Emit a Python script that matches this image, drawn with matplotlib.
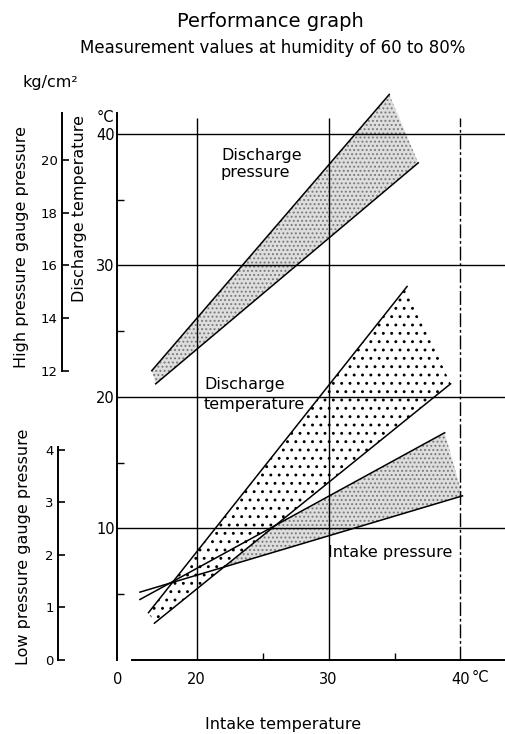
import numpy as np
import matplotlib.pyplot as plt

plt.rcParams['font.family'] = 'DejaVu Sans'
plt.rcParams['hatch.linewidth'] = 0.9

# boundary lines of each band: intake temperature (deg C) at both ends,
# band value at both ends
dp_x_upper = [16.6, 34.6]
dp_upper = [12.0, 22.5]        # discharge pressure, kg/cm2
dp_x_lower = [16.9, 36.8]
dp_lower = [11.5, 19.9]

dt_x_upper = [16.35, 35.95]
dt_upper = [3.6, 28.4]         # discharge temperature, deg C
dt_x_lower = [16.8, 39.25]
dt_lower = [2.8, 21.0]

ip_x_upper = [15.7, 38.8]
ip_upper = [1.15, 4.32]        # intake pressure, kg/cm2
ip_x_lower = [15.7, 40.15]
ip_lower = [1.29, 3.12]

temp_grid = [10, 20, 30, 40]
temp_minor = [5, 15, 25, 35]
intake_ticks = [20, 30, 40]
intake_minor = [25, 35]
hp_ticks = [12, 14, 16, 18, 20]
lp_ticks = [0, 1, 2, 3, 4]


# pressure scales against the discharge temperature scale
def t_to_hp(t):
    return 1 + np.asarray(t) / 2


def hp_to_t(p):
    return (np.asarray(p) - 1) * 2


def t_to_lp(t):
    return np.asarray(t) / 4


def lp_to_t(p):
    return np.asarray(p) * 4


def crossing(xa, ya, xb, yb):
    ka = (ya[1] - ya[0]) / (xa[1] - xa[0])
    kb = (yb[1] - yb[0]) / (xb[1] - xb[0])
    x = (yb[0] - ya[0] + ka * xa[0] - kb * xb[0]) / (ka - kb)
    return x, ya[0] + ka * (x - xa[0])


W, H = 506, 734
fig = plt.figure(figsize=(W / 100, H / 100), dpi=100)


def fx(px):
    return px / W


def fy(py):
    return 1 - py / H


XMIN, XMAX = 14.0, 43.45
ax = fig.add_axes([fx(117.5), fy(660), fx(506) - fx(117.5), fy(80) - fy(660)])
ax.set_xlim(XMIN, XMAX)
ax.set_ylim(0, 44.1)

# bands
stipple = dict(facecolor='#dedede', edgecolor='#7a7a7a', hatch='....', linewidth=0, zorder=1)
xc, pc = crossing(ip_x_upper, ip_upper, ip_x_lower, ip_lower)
ax.fill([xc, ip_x_upper[1], ip_x_lower[1]],
        lp_to_t([pc, ip_upper[1], ip_lower[1]]), **stipple)
ax.fill([dp_x_upper[0], dp_x_upper[1], dp_x_lower[1], dp_x_lower[0]],
        hp_to_t([dp_upper[0], dp_upper[1], dp_lower[1], dp_lower[0]]), **stipple)
ax.fill([dt_x_upper[0], dt_x_upper[1], dt_x_lower[1], dt_x_lower[0]],
        [dt_upper[0], dt_upper[1], dt_lower[1], dt_lower[0]],
        facecolor='white', edgecolor='black', hatch='..', linewidth=0, zorder=2)

# grid
ax.hlines(temp_grid, XMIN, XMAX, color='black', lw=1.0, zorder=2.5)
ax.vlines([20, 30], 0, 41.2, color='black', lw=1.0, zorder=2.5)
ax.vlines(40, 0, 41.2, color='black', lw=1.0, linestyles=(0, (10, 2, 2, 2)), zorder=2.5)

# band edges
for xs, ys in [(dp_x_upper, hp_to_t(dp_upper)), (dp_x_lower, hp_to_t(dp_lower)),
               (dt_x_upper, dt_upper), (dt_x_lower, dt_lower),
               (ip_x_upper, lp_to_t(ip_upper)), (ip_x_lower, lp_to_t(ip_lower))]:
    ax.plot(xs, ys, color='black', lw=1.1, zorder=3)

# main axes
for side in ['top', 'right']:
    ax.spines[side].set_visible(False)
ax.spines['left'].set_bounds(0, 41.6)
ax.spines['bottom'].set_bounds(15.1, XMAX)
for side in ['left', 'bottom']:
    ax.spines[side].set_linewidth(1.4)

ax.set_yticks(temp_grid)
ax.set_yticks(temp_minor, minor=True)
ax.tick_params(axis='y', which='major', length=0, labelsize=10.5, pad=2)
ax.tick_params(axis='y', which='minor', direction='in', length=5, width=1.0)
ax.set_xticks([XMIN] + intake_ticks, ['0', '20', '30', '40'])
ax.set_xticks(intake_minor, minor=True)
ax.tick_params(axis='x', which='major', length=0, labelsize=10.5, pad=9)
ax.tick_params(axis='x', which='minor', direction='in', length=5, width=1.0)

# pressure gauge scales
hp = ax.secondary_yaxis(-0.143, functions=(t_to_hp, hp_to_t))
hp.set_yticks(hp_ticks)
hp.spines['left'].set_bounds(12, 21.8)
hp.spines['left'].set_linewidth(1.4)
hp.tick_params(direction='in', length=5, width=1.2, labelsize=9.5, pad=3)

lp = ax.secondary_yaxis(-0.153, functions=(t_to_lp, lp_to_t))
lp.set_yticks(lp_ticks)
lp.spines['left'].set_bounds(0, 4.05)
lp.spines['left'].set_linewidth(1.4)
lp.tick_params(direction='in', length=5, width=1.2, labelsize=9.5, pad=3)

# text
fig.text(fx(270), fy(27), 'Performance graph', ha='center', va='baseline', fontsize=14)
fig.text(fx(273), fy(53), 'Measurement values at humidity of 60 to 80%',
         ha='center', va='baseline', fontsize=12)
fig.text(fx(23), fy(87), 'kg/cm²', ha='left', va='baseline', fontsize=11.5)
fig.text(fx(97), fy(118), '°C', ha='left', va='center', fontsize=10.5)
fig.text(fx(22), fy(247), 'High pressure gauge pressure', rotation=90,
         ha='center', va='center', fontsize=11.5)
fig.text(fx(80), fy(209), 'Discharge temperature', rotation=90,
         ha='center', va='center', fontsize=11.5)
fig.text(fx(24), fy(547), 'Low pressure gauge pressure', rotation=90,
         ha='center', va='center', fontsize=11.5)
fig.text(fx(283), fy(725), 'Intake temperature', ha='center', va='center', fontsize=11.5)
fig.text(fx(472), fy(678), '°C', ha='left', va='center', fontsize=10.5)

fig.text(fx(221), fy(148), 'Discharge\npressure', ha='left', va='top',
         fontsize=11.5, linespacing=1.2)
fig.text(fx(204), fy(377), 'Discharge\ntemperature', ha='left', va='top',
         fontsize=11.5, linespacing=1.45, zorder=5)
fig.text(fx(328), fy(553), 'Intake pressure', ha='left', va='center', fontsize=11.5)

fig.savefig('out.png', dpi=100, facecolor='white')
